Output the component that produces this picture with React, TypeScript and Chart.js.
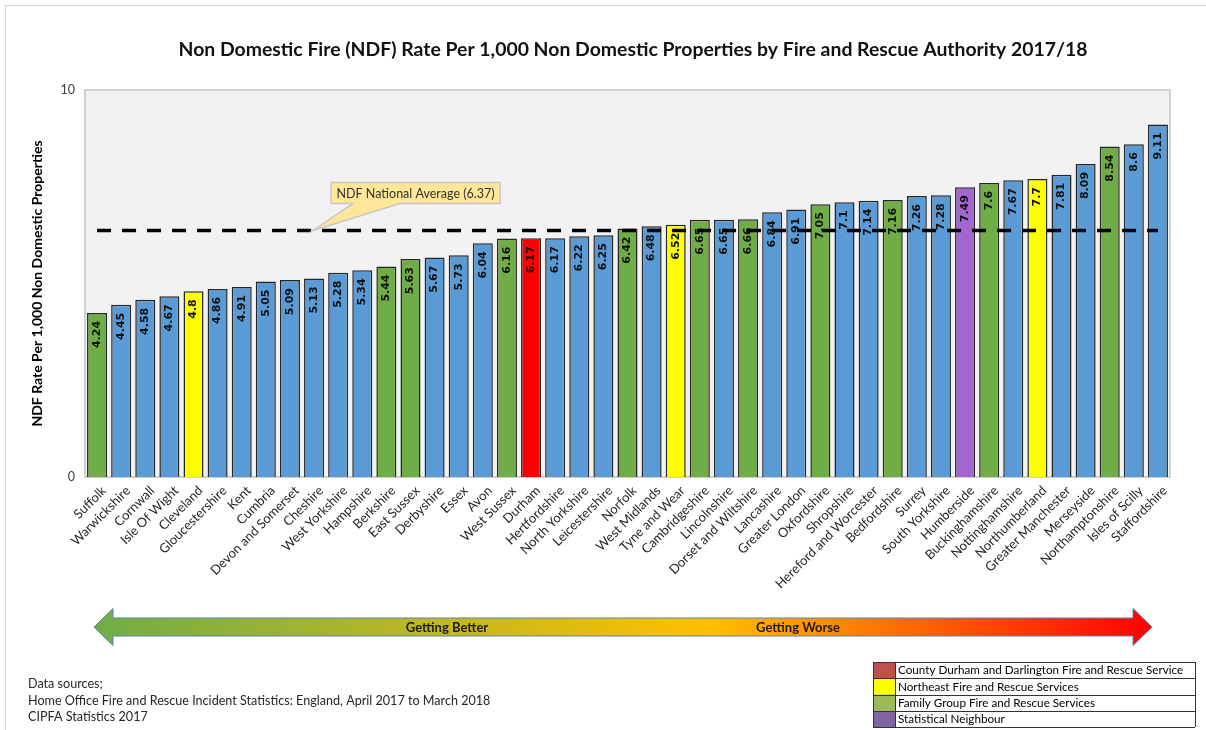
import React, { useEffect, useRef } from 'react';
import { Chart, registerables } from 'chart.js';

Chart.register(...registerables);

const categories = [
  'Suffolk', 'Warwickshire', 'Cornwall', 'Isle Of Wight', 'Cleveland', 'Gloucestershire', 'Kent', 'Cumbria',
  'Devon and Somerset', 'Cheshire', 'West Yorkshire', 'Hampshire', 'Berkshire', 'East Sussex', 'Derbyshire',
  'Essex', 'Avon', 'West Sussex', 'Durham', 'Hertfordshire', 'North Yorkshire', 'Leicestershire', 'Norfolk',
  'West Midlands', 'Tyne and Wear', 'Cambridgeshire', 'Lincolnshire', 'Dorset and Wiltshire', 'Lancashire',
  'Greater London', 'Oxfordshire', 'Shropshire', 'Hereford and Worcester', 'Bedfordshire', 'Surrey',
  'South Yorkshire', 'Humberside', 'Buckinghamshire', 'Nottinghamshire', 'Northumberland', 'Greater Manchester',
  'Merseyside', 'Northamptonshire', 'Isles of Scilly', 'Staffordshire',
];

const values = [
  4.24, 4.45, 4.58, 4.67, 4.8, 4.86, 4.91, 5.05, 5.09, 5.13, 5.28, 5.34, 5.44, 5.63, 5.67, 5.73, 6.04, 6.16,
  6.17, 6.17, 6.22, 6.25, 6.42, 6.48, 6.52, 6.65, 6.65, 6.66, 6.84, 6.91, 7.05, 7.1, 7.14, 7.16, 7.26, 7.28,
  7.49, 7.6, 7.67, 7.7, 7.81, 8.09, 8.54, 8.6, 9.11,
];

// B = other, G = family group, Y = northeast, R = Durham, P = statistical neighbour
const groups = [
  'G', 'B', 'B', 'B', 'Y', 'B', 'B', 'B', 'B', 'B', 'B', 'B', 'G', 'G', 'B', 'B', 'B', 'G', 'R', 'B', 'B', 'B',
  'G', 'B', 'Y', 'G', 'B', 'G', 'B', 'B', 'G', 'B', 'B', 'G', 'B', 'B', 'P', 'G', 'B', 'Y', 'B', 'B', 'G', 'B', 'B',
];

const nationalAverage = 6.37;
const yMin = 0;
const yMax = 10;

const titleText = 'Non Domestic Fire (NDF) Rate Per 1,000 Non Domestic Properties by Fire and Rescue Authority 2017/18';
const yAxisTitle = 'NDF Rate Per 1,000 Non Domestic Properties';
const calloutText = 'NDF National Average (6.37)';
const arrowLabels = ['Getting Better', 'Getting Worse'];
const sourceLines = [
  'Data sources;',
  'Home Office Fire and Rescue Incident Statistics: England, April 2017 to March 2018',
  'CIPFA Statistics 2017',
];
const legendLabels = [
  'County Durham and Darlington Fire and Rescue Service',
  'Northeast Fire and Rescue Services',
  'Family Group Fire and Rescue Services',
  'Statistical Neighbour',
];
const legendColors = ['#c0504d', '#ffff00', '#9bbb59', '#8064a2'];

const groupColors: Record<string, string> = {
  B: '#5b9bd5',
  G: '#70ad47',
  Y: '#ffff00',
  R: '#ff0000',
  P: '#a365cf',
};

const FONT = 'Lato, "Open Sans", sans-serif';

const decorPlugin = {
  id: 'decor',
  beforeDraw(chart: any) {
    const { ctx, chartArea: a } = chart;
    ctx.save();
    ctx.fillStyle = '#ffffff';
    ctx.fillRect(0, 0, chart.width, chart.height);
    ctx.strokeStyle = '#d9d9d9';
    ctx.lineWidth = 1;
    ctx.beginPath();
    ctx.moveTo(5.5, chart.height);
    ctx.lineTo(5.5, 5.5);
    ctx.lineTo(chart.width, 5.5);
    ctx.stroke();
    ctx.fillStyle = '#f2f2f2';
    ctx.fillRect(a.left, a.top, a.right - a.left, a.bottom - a.top);
    ctx.strokeStyle = '#d0d0d0';
    ctx.lineWidth = 2;
    ctx.strokeRect(a.left, a.top, a.right - a.left, a.bottom - a.top);
    // Title
    ctx.fillStyle = '#111111';
    ctx.font = 'bold 19.4px ' + FONT;
    ctx.textAlign = 'center';
    ctx.textBaseline = 'middle';
    ctx.fillText(titleText, 633, 50);
    ctx.restore();
  },
  afterDatasetDraw(chart: any, args: any) {
    if (args.index !== 0) return;
    const { ctx } = chart;
    const meta = chart.getDatasetMeta(0);
    ctx.save();
    ctx.font = 'bold 11px "DejaVu Sans", sans-serif';
    ctx.fillStyle = '#111111';
    meta.data.forEach((bar: any, i: number) => {
      ctx.save();
      ctx.translate(bar.x, bar.y + 8);
      ctx.rotate(-Math.PI / 2);
      ctx.textAlign = 'right';
      ctx.textBaseline = 'middle';
      ctx.fillText(String(values[i]), 0, 0);
      ctx.restore();
    });
    ctx.restore();
  },
  afterDraw(chart: any) {
    const { ctx } = chart;
    const xs = chart.scales.x;
    const ys = chart.scales.y;
    ctx.save();

    // Callout
    const tipX = xs.getPixelForValue(9) - 1;
    const tipY = ys.getPixelForValue(nationalAverage);
    const bl = tipX + 18, br = tipX + 187, bt = tipY - 48, bb = tipY - 27;
    ctx.beginPath();
    ctx.moveTo(bl, bt);
    ctx.lineTo(br, bt);
    ctx.lineTo(br, bb);
    ctx.lineTo(tipX + 87, bb);
    ctx.lineTo(tipX, tipY);
    ctx.lineTo(tipX + 40, bb);
    ctx.lineTo(bl, bb);
    ctx.closePath();
    ctx.fillStyle = '#ffe699';
    ctx.fill();
    ctx.strokeStyle = '#c8c8c8';
    ctx.lineWidth = 1.5;
    ctx.stroke();
    ctx.fillStyle = '#333333';
    ctx.font = '12.5px ' + FONT;
    ctx.textAlign = 'center';
    ctx.textBaseline = 'middle';
    ctx.fillText(calloutText, (bl + br) / 2, (bt + bb) / 2 + 1);

    // Gradient arrow
    const L = 94, R = 1152, cy = 627, bh = 9, hh = 18.5, hl = 19;
    const grad = ctx.createLinearGradient(L, 0, R, 0);
    grad.addColorStop(0, '#70ad47');
    grad.addColorStop(0.58, '#ffc000');
    grad.addColorStop(1, '#ff0000');
    ctx.beginPath();
    ctx.moveTo(L, cy);
    ctx.lineTo(L + hl, cy - hh);
    ctx.lineTo(L + hl, cy - bh);
    ctx.lineTo(R - hl, cy - bh);
    ctx.lineTo(R - hl, cy - hh);
    ctx.lineTo(R, cy);
    ctx.lineTo(R - hl, cy + hh);
    ctx.lineTo(R - hl, cy + bh);
    ctx.lineTo(L + hl, cy + bh);
    ctx.lineTo(L + hl, cy + hh);
    ctx.closePath();
    ctx.fillStyle = grad;
    ctx.fill();
    ctx.strokeStyle = '#5b82b0';
    ctx.lineWidth = 1;
    ctx.stroke();
    ctx.fillStyle = '#1a1a1a';
    ctx.font = 'bold 13px ' + FONT;
    ctx.fillText(arrowLabels[0], 447, cy + 1);
    ctx.fillText(arrowLabels[1], 798, cy + 1);

    // Data sources
    ctx.textAlign = 'left';
    ctx.font = '12.6px ' + FONT;
    ctx.fillStyle = '#262626';
    sourceLines.forEach((s, i) => ctx.fillText(s, 28, 684 + i * 16.5));

    // Legend table
    const lx = 873, lr = 1195, lt = 662, rh = 16.25, sw = 22;
    legendLabels.forEach((lab, i) => {
      const y = lt + i * rh;
      ctx.fillStyle = legendColors[i];
      ctx.fillRect(lx, y, sw, rh);
      ctx.fillStyle = '#000000';
      ctx.font = '11.7px ' + FONT;
      ctx.fillText(lab, lx + sw + 3, y + rh / 2 + 0.5);
    });
    ctx.strokeStyle = '#333333';
    ctx.lineWidth = 1;
    for (let i = 0; i <= legendLabels.length; i++) {
      const y = Math.round(lt + i * rh) + 0.5;
      ctx.beginPath();
      ctx.moveTo(lx, y);
      ctx.lineTo(lr, y);
      ctx.stroke();
    }
    ctx.beginPath();
    ctx.moveTo(lx + 0.5, lt);
    ctx.lineTo(lx + 0.5, lt + rh * 4);
    ctx.moveTo(lx + sw + 0.5, lt);
    ctx.lineTo(lx + sw + 0.5, lt + rh * 4);
    ctx.moveTo(lr + 0.5, lt);
    ctx.lineTo(lr + 0.5, lt + rh * 4);
    ctx.stroke();

    ctx.restore();
  },
};

export default function App() {
  const canvasRef = useRef<HTMLCanvasElement | null>(null);

  useEffect(() => {
    if (!canvasRef.current) return;
    const chart = new Chart(canvasRef.current, {
      type: 'bar',
      data: {
        labels: categories,
        datasets: [
          {
            type: 'bar',
            data: values,
            backgroundColor: groups.map((g) => groupColors[g]),
            borderColor: '#262626',
            borderWidth: 1.5,
            categoryPercentage: 1,
            barPercentage: 0.83,
            order: 2,
          } as any,
          {
            type: 'line',
            data: categories.map(() => nationalAverage),
            borderColor: '#000000',
            borderWidth: 3.5,
            borderDash: [14, 11],
            borderCapStyle: 'butt',
            pointRadius: 0,
            fill: false,
            order: 1,
          } as any,
        ],
      },
      options: {
        responsive: false,
        animation: false,
        events: [],
        layout: { padding: { left: 0, top: 90, right: 36, bottom: 0 } },
        plugins: {
          legend: { display: false },
          tooltip: { enabled: false },
          title: { display: false },
        },
        scales: {
          x: {
            grid: { display: false, drawTicks: false },
            border: { display: false },
            ticks: {
              autoSkip: false,
              maxRotation: 45,
              minRotation: 45,
              padding: 6,
              labelOffset: 7,
              color: '#262626',
              font: { family: FONT, size: 13 },
            },
            afterFit: (s: any) => {
              s.height = 253;
            },
          },
          y: {
            min: yMin,
            max: yMax,
            grid: { display: false, drawTicks: false },
            border: { display: false },
            ticks: {
              stepSize: yMax - yMin,
              padding: 10,
              color: '#404040',
              font: { family: FONT, size: 12.5 },
            },
            title: {
              display: true,
              text: yAxisTitle,
              color: '#000000',
              font: { family: FONT, size: 14, weight: 'bold' },
              padding: { top: 29, bottom: 0 },
            },
            afterFit: (s: any) => {
              s.width = 85;
            },
          },
        },
      } as any,
      plugins: [decorPlugin],
    });
    return () => chart.destroy();
  }, []);

  return (
    <div style={{ position: 'absolute', left: 0, top: 0, width: 1206, height: 730, background: '#fff' }}>
      <canvas ref={canvasRef} width={1206} height={730} style={{ display: 'block' }} />
    </div>
  );
}
